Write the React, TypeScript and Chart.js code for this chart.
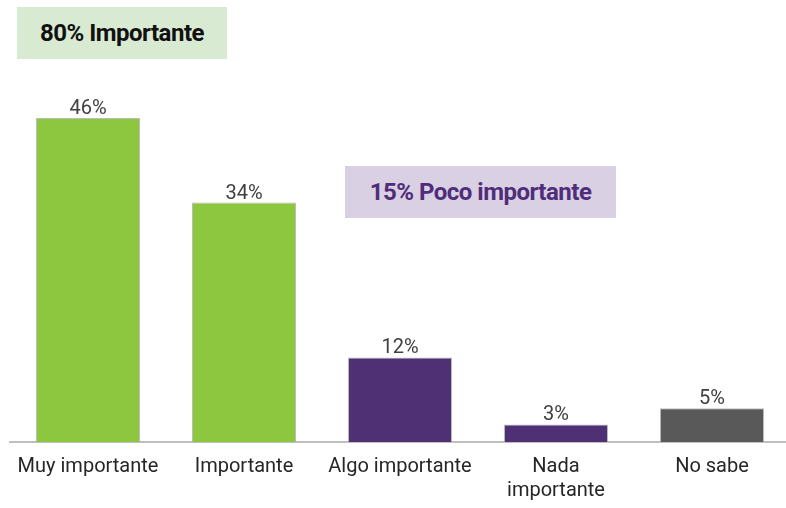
import React, { useEffect, useRef } from "react";
import { Chart, registerables } from "chart.js";

Chart.register(...registerables);

const categories: (string | string[])[] = [
  "Muy importante",
  "Importante",
  "Algo importante",
  ["Nada", "importante"],
  "No sabe",
];
const values = [46, 34, 12, 2.5, 4.8];
const valueLabels = ["46%", "34%", "12%", "3%", "5%"];
const barColors = ["#8dc63f", "#8dc63f", "#4f3075", "#4f3075", "#595959"];
const groupImportant = "80% Importante";
const groupLowImportance = "15% Poco importante";

const valueLabelPlugin = {
  id: "valueLabels",
  afterDatasetsDraw(chart: any) {
    const ctx = chart.ctx;
    const meta = chart.getDatasetMeta(0);
    ctx.save();
    ctx.font = "20px Roboto";
    ctx.fillStyle = "#404040";
    ctx.textAlign = "center";
    ctx.textBaseline = "alphabetic";
    meta.data.forEach((bar: any, i: number) => {
      ctx.fillText(valueLabels[i], bar.x, bar.y - 4);
    });
    ctx.restore();
  },
};

export default function App() {
  const ref = useRef<HTMLCanvasElement | null>(null);
  useEffect(() => {
    if (!ref.current) return;
    const chart = new Chart(ref.current, {
      type: "bar",
      data: {
        labels: categories,
        datasets: [
          {
            data: values,
            backgroundColor: barColors,
            borderColor: "rgba(160,160,160,0.7)",
            borderWidth: { top: 1, left: 1, right: 1, bottom: 0 },
            borderSkipped: "bottom",
            barPercentage: 1,
            categoryPercentage: 0.667,
          },
        ],
      },
      options: {
        responsive: false,
        animation: false,
        maintainAspectRatio: false,
        layout: { padding: { left: 10, right: 0, top: 0, bottom: -8 } },
        plugins: {
          legend: { display: false },
          tooltip: { enabled: false },
          title: { display: false },
        },
        scales: {
          x: {
            grid: { display: false, drawTicks: false },
            border: { display: true, color: "#bfbfbf", width: 2 },
            ticks: {
              color: "#262626",
              font: { family: "Roboto", size: 20, lineHeight: 1.2 },
              padding: 13,
              maxRotation: 0,
              autoSkip: false,
            },
          },
          y: {
            display: false,
            min: 0,
            max: 62.75,
          },
        },
      },
      plugins: [valueLabelPlugin],
    });
    return () => chart.destroy();
  }, []);

  return (
    <div
      style={{
        position: "fixed",
        left: 0,
        top: 0,
        width: 786,
        height: 508,
        overflow: "hidden",
        background: "#fff",
      }}
    >
      <canvas ref={ref} width={790} height={508} style={{ position: "absolute", left: 0, top: 0 }} />
      <div
        style={{
          position: "absolute",
          left: 17,
          top: 7,
          width: 210,
          height: 52,
          background: "#d9ead3",
          color: "#111111",
          font: "bold 24px Roboto",
          display: "flex",
          alignItems: "center",
          justifyContent: "center",
          letterSpacing: "-0.5px",
        }}
      >
        {groupImportant}
      </div>
      <div
        style={{
          position: "absolute",
          left: 345,
          top: 166,
          width: 271,
          height: 52,
          background: "#d9d0e3",
          color: "#4f2d7a",
          font: "bold 24px Roboto",
          display: "flex",
          alignItems: "center",
          justifyContent: "center",
          letterSpacing: "-0.5px",
        }}
      >
        {groupLowImportance}
      </div>
    </div>
  );
}
